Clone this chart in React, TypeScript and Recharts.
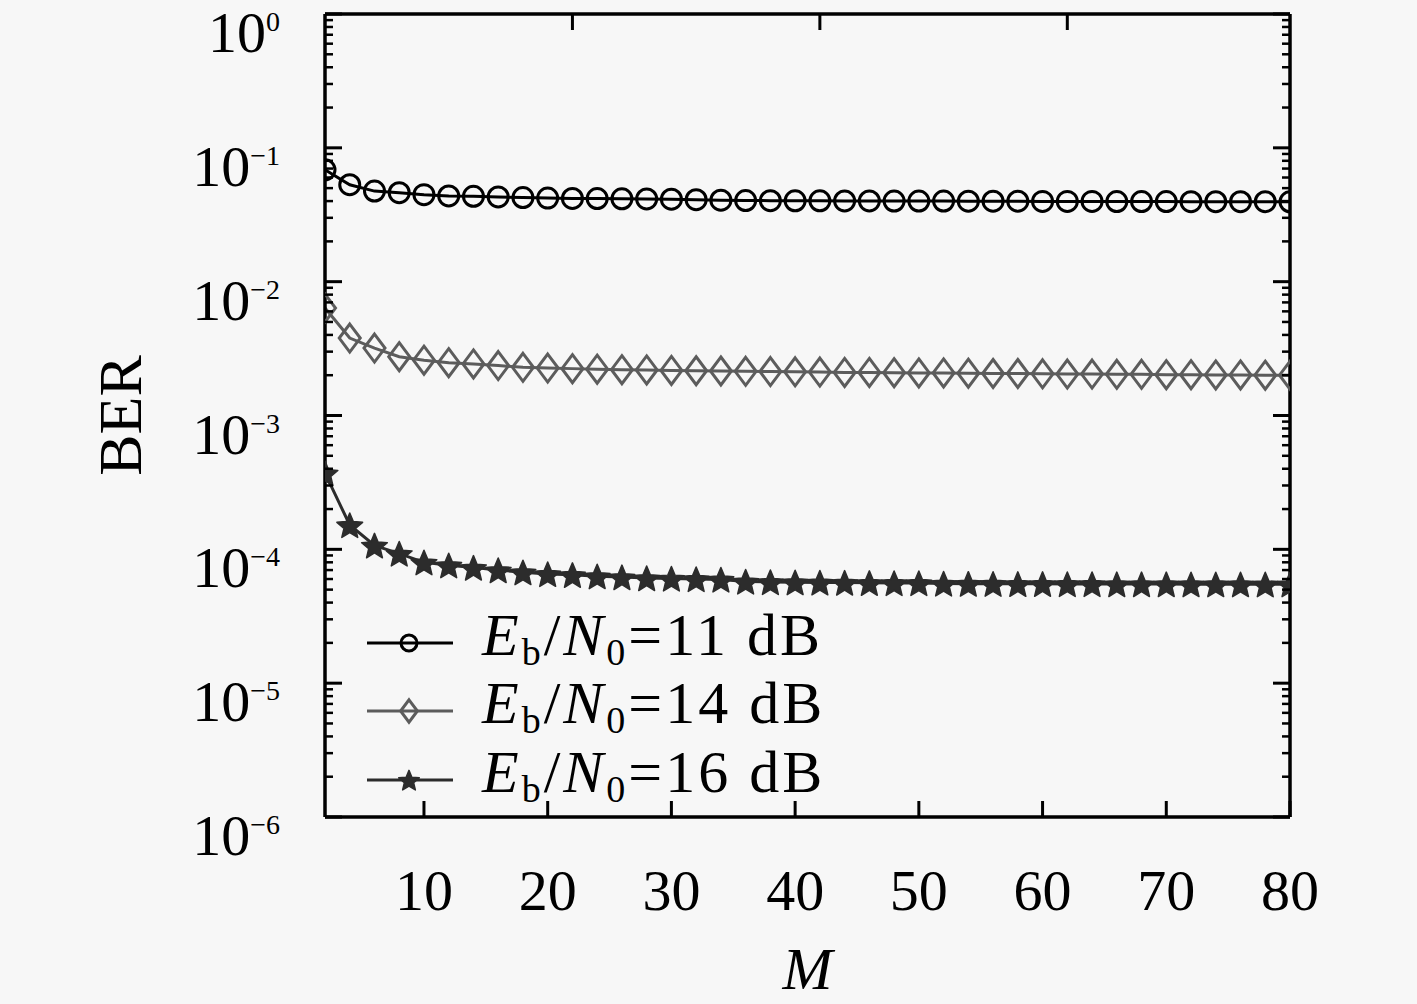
import React from "react";
import { LineChart, Line, XAxis, YAxis, Legend, Label } from "recharts";

// M values (x axis) and BER
const M = [2, 4, 6, 8, 10, 12, 14, 16, 18, 20, 22, 24, 26, 28, 30, 32, 34, 36, 38, 40,
  42, 44, 46, 48, 50, 52, 54, 56, 58, 60, 62, 64, 66, 68, 70, 72, 74, 76, 78, 80];
const ber11 = [0.0685, 0.053, 0.0475, 0.0462, 0.0447, 0.0437, 0.0434, 0.043, 0.0425, 0.0421,
  0.0419, 0.0418, 0.0416, 0.0415, 0.0413, 0.041, 0.0406, 0.0404, 0.0403, 0.0402,
  0.0402, 0.0401, 0.0401, 0.04, 0.04, 0.04, 0.0399, 0.0399, 0.0399, 0.0398,
  0.0398, 0.0398, 0.0397, 0.0397, 0.0397, 0.0396, 0.0396, 0.0396, 0.0396, 0.0395];
const ber14 = [0.00635, 0.00379, 0.00319, 0.00275, 0.00259, 0.00248, 0.00243, 0.00236, 0.00229, 0.00226,
  0.00224, 0.00222, 0.0022, 0.00219, 0.00217, 0.00216, 0.00215, 0.00214, 0.00213, 0.00212,
  0.00211, 0.0021, 0.0021, 0.00209, 0.00208, 0.00208, 0.00207, 0.00206, 0.00206, 0.00205,
  0.00204, 0.00204, 0.00203, 0.00203, 0.00202, 0.00202, 0.00201, 0.00201, 0.002, 0.002];
const ber16 = [3.71e-4, 1.52e-4, 1.07e-4, 9.3e-5, 8.0e-5, 7.6e-5, 7.3e-5, 7.0e-5, 6.75e-5, 6.55e-5,
  6.45e-5, 6.3e-5, 6.2e-5, 6.1e-5, 6.05e-5, 6.0e-5, 5.95e-5, 5.75e-5, 5.7e-5, 5.68e-5,
  5.66e-5, 5.64e-5, 5.62e-5, 5.6e-5, 5.6e-5, 5.55e-5, 5.54e-5, 5.53e-5, 5.52e-5, 5.52e-5,
  5.51e-5, 5.51e-5, 5.5e-5, 5.5e-5, 5.5e-5, 5.49e-5, 5.49e-5, 5.49e-5, 5.48e-5, 5.48e-5];

const xTicks = [10, 20, 30, 40, 50, 60, 70, 80];
const yTicks = [1e-6, 1e-5, 1e-4, 1e-3, 1e-2, 1e-1, 1];
const minorDecades = [1e-6, 1e-5, 1e-4, 1e-3, 1e-2, 1e-1];
const minorMantissas = [2, 3, 4, 5, 6, 7, 8, 9];
const snrLabels = ["11", "14", "16"];

const data = M.map((m, i) => ({ M: m, s11: ber11[i], s14: ber14[i], s16: ber16[i] }));
const yMinor = minorDecades.flatMap((d) => minorMantissas.map((k) => k * d));
const yAll = [...yTicks, ...yMinor].sort((a, b) => a - b);

const FONT = '"Liberation Serif", "DejaVu Serif", serif';
const BG = "#f7f7f7";
const W = 1417;
const H = 1004;
const PLOT_LEFT = 325;
const PLOT_RIGHT = 1290;
const PLOT_TOP = 14;
const PLOT_BOTTOM = 817;

const C11 = "#000000";
const C14 = "#5c5c5c";
const C16 = "#2c2c2c";

const isMajor = (v: number) => Math.abs(Math.log10(v) - Math.round(Math.log10(v))) < 1e-6;

function starPoints(cx: number, cy: number, R: number) {
  const r = R * 0.45;
  const pts: string[] = [];
  for (let i = 0; i < 10; i++) {
    const a = -Math.PI / 2 + (i * Math.PI) / 5;
    const rr = i % 2 === 0 ? R : r;
    pts.push(`${cx + rr * Math.cos(a)},${cy + rr * Math.sin(a)}`);
  }
  return pts.join(" ");
}

function Marker({ kind, cx, cy, s = 1 }: { kind: number; cx: number; cy: number; s?: number }) {
  if (kind === 0) {
    return <circle cx={cx} cy={cy} r={10 * s} fill="none" stroke={C11} strokeWidth={3} />;
  }
  if (kind === 1) {
    const w = 10.5 * s;
    const h = 14 * s;
    return (
      <polygon
        points={`${cx},${cy - h} ${cx + w},${cy} ${cx},${cy + h} ${cx - w},${cy}`}
        fill="none"
        stroke={C14}
        strokeWidth={3}
      />
    );
  }
  return <polygon points={starPoints(cx, cy + 1.5 * s, 13.5 * s)} fill={C16} stroke={C16} strokeWidth={1.5} strokeLinejoin="round" />;
}

const makeDot = (kind: number) => (p: any) => (
  <Marker key={`d${kind}-${p.index}`} kind={kind} cx={p.cx} cy={p.cy} />
);

// left axis: inward tick line + label for decades
const YTickLeft = ({ y, payload }: any) => {
  const v = payload.value;
  const major = isMajor(v);
  const e = Math.round(Math.log10(v));
  return (
    <g>
      <line x1={PLOT_LEFT} x2={PLOT_LEFT + (major ? 17 : 8)} y1={y} y2={y} stroke="#000" strokeWidth={major ? 3 : 2.5} />
      {major && (
        <text x={PLOT_LEFT - 45} y={y + 38} textAnchor="end" fontFamily={FONT} fontSize={58} fill="#000">
          <tspan>10</tspan>
          <tspan fontSize={28} dy={-21}>{e === 0 ? "0" : "\u2212" + String(-e)}</tspan>
        </text>
      )}
    </g>
  );
};

const YTickRight = ({ y, payload }: any) => {
  const major = isMajor(payload.value);
  return (
    <line x1={PLOT_RIGHT} x2={PLOT_RIGHT - (major ? 17 : 8)} y1={y} y2={y} stroke="#000" strokeWidth={major ? 3 : 2.5} />
  );
};

const XTickBottom = ({ x, payload }: any) => (
  <g>
    <line x1={x} x2={x} y1={PLOT_BOTTOM} y2={PLOT_BOTTOM - 16} stroke="#000" strokeWidth={3} />
    <text x={x} y={910} textAnchor="middle" fontFamily={FONT} fontSize={58} fill="#000">
      {payload.value}
    </text>
  </g>
);

const XTickTop = ({ x }: any) =>
  x <= PLOT_RIGHT + 1 ? <line x1={x} x2={x} y1={PLOT_TOP} y2={PLOT_TOP + 16} stroke="#000" strokeWidth={3} /> : <g />;

const LegendContent = ({ payload }: any) => {
  const rows = [43, 111, 180];
  return (
    <svg width={500} height={215} style={{ display: "block", overflow: "visible" }}>
      {(payload || []).map((entry: any, i: number) => (
        <g key={`leg${i}`}>
          <line x1={27} x2={113} y1={rows[i]} y2={rows[i]} stroke={entry.color} strokeWidth={3} />
          <Marker kind={i} cx={69} cy={rows[i]} s={0.8} />
          <text x={142} y={rows[i] + 12} fontFamily={FONT} fontSize={60} fill="#000" letterSpacing={3}>
            <tspan fontStyle="italic">E</tspan>
            <tspan fontSize={38} dy={10}>b</tspan>
            <tspan dy={-10}>/</tspan>
            <tspan fontStyle="italic">N</tspan>
            <tspan fontSize={38} dy={10}>0</tspan>
            <tspan dy={-10}>{`=${snrLabels[i]}\u00a0dB`}</tspan>
          </text>
        </g>
      ))}
    </svg>
  );
};

const frame = { stroke: "#000", strokeWidth: 3.5 };

export default function App() {
  return (
    <div style={{ position: "absolute", left: 0, top: 0, width: W, height: H, background: BG }}>
      <LineChart width={W} height={H} data={data} margin={{ top: 0, right: 0, bottom: 0, left: 0 }}>
        <XAxis
          xAxisId="x"
          dataKey="M"
          type="number"
          domain={[2, 80]}
          ticks={xTicks}
          allowDataOverflow
          height={H - PLOT_BOTTOM}
          tickLine={false}
          tick={<XTickBottom />}
          interval={0}
          axisLine={frame}
        >
          <Label
            content={({ viewBox }: any) => (
              <text
                x={viewBox.x + viewBox.width / 2}
                y={viewBox.y + 172}
                textAnchor="middle"
                fontFamily={FONT}
                fontStyle="italic"
                fontSize={60}
                fill="#000"
              >
                M
              </text>
            )}
          />
        </XAxis>
        <XAxis
          xAxisId="xt"
          type="number"
          orientation="top"
          domain={[2, 80]}
          ticks={xTicks}
          allowDataOverflow
          height={PLOT_TOP}
          interval={0}
          tickLine={false}
          tick={<XTickTop />}
          axisLine={frame}
        />
        <YAxis
          yAxisId="y"
          scale="log"
          domain={[1e-6, 1]}
          ticks={yAll}
          allowDataOverflow
          width={PLOT_LEFT}
          interval={0}
          tickLine={false}
          tick={<YTickLeft />}
          axisLine={frame}
        >
          <Label
            content={({ viewBox }: any) => (
              <text
                x={120}
                y={viewBox.y + viewBox.height / 2}
                textAnchor="middle"
                dominantBaseline="central"
                transform={`rotate(-90 120 ${viewBox.y + viewBox.height / 2})`}
                fontFamily={FONT}
                fontSize={62}
                fill="#000"
              >
                BER
              </text>
            )}
          />
        </YAxis>
        <YAxis
          yAxisId="yr"
          orientation="right"
          scale="log"
          domain={[1e-6, 1]}
          ticks={yAll}
          allowDataOverflow
          width={W - PLOT_RIGHT}
          interval={0}
          tickLine={false}
          tick={<YTickRight />}
          axisLine={frame}
        />
        <Legend
          layout="horizontal"
          verticalAlign="middle"
          align="center"
          wrapperStyle={{ left: 340, top: 600, width: 500, height: 215 }}
          content={<LegendContent />}
        />
        <Line
          xAxisId="x"
          yAxisId="y"
          dataKey="s11"
          name="11 dB"
          stroke={C11}
          strokeWidth={3}
          dot={makeDot(0)}
          activeDot={false}
          isAnimationActive={false}
        />
        <Line
          xAxisId="x"
          yAxisId="y"
          dataKey="s14"
          name="14 dB"
          stroke={C14}
          strokeWidth={3}
          dot={makeDot(1)}
          activeDot={false}
          isAnimationActive={false}
        />
        <Line
          xAxisId="x"
          yAxisId="y"
          dataKey="s16"
          name="16 dB"
          stroke={C16}
          strokeWidth={3}
          dot={makeDot(2)}
          activeDot={false}
          isAnimationActive={false}
        />
      </LineChart>
    </div>
  );
}
